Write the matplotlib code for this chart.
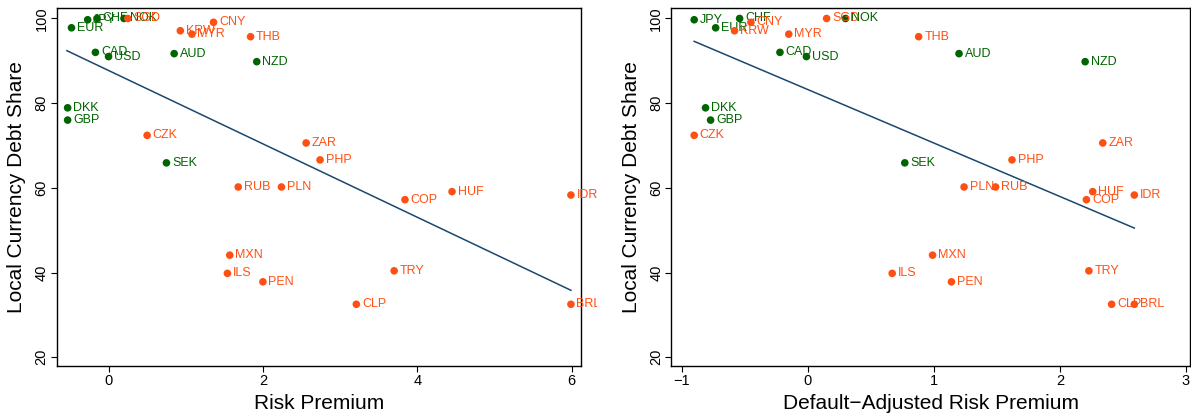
import matplotlib
matplotlib.use("Agg")
from matplotlib import pyplot as plt
from matplotlib.patches import Rectangle

plt.rcParams['font.family'] = ['Liberation Sans', 'DejaVu Sans']

# Currencies (same y in both)
currencies = ['EUR', 'JPY', 'CHF', 'NOK', 'SGD', 'KRW', 'MYR', 'CNY', 'THB',
              'CAD', 'USD', 'AUD', 'NZD', 'DKK', 'GBP', 'CZK', 'SEK', 'ZAR',
              'PHP', 'RUB', 'PLN', 'COP', 'HUF', 'IDR', 'MXN', 'ILS', 'PEN',
              'TRY', 'CLP', 'BRL']
advanced = ['EUR', 'JPY', 'CHF', 'NOK', 'CAD', 'USD', 'AUD', 'NZD', 'DKK',
            'GBP', 'SEK']

debt_share = [97.8, 99.7, 100.0, 100.0, 100.0, 97.1, 96.3, 99.1, 95.7,
              92.0, 91.0, 91.7, 89.8, 78.9, 76.0, 72.4, 65.9, 70.6,
              66.6, 60.2, 60.2, 57.2, 59.1, 58.3, 44.1, 39.8, 37.8,
              40.4, 32.5, 32.5]
risk_premium = [-0.48, -0.27, -0.15, 0.20, 0.25, 0.93, 1.08, 1.36, 1.84,
                -0.17, 0.00, 0.85, 1.92, -0.53, -0.53, 0.50, 0.75, 2.56,
                2.74, 1.68, 2.24, 3.84, 4.45, 5.99, 1.57, 1.54, 2.00,
                3.70, 3.21, 5.99]
adj_risk_premium = [-0.73, -0.90, -0.54, 0.30, 0.15, -0.58, -0.15, -0.45, 0.88,
                    -0.22, -0.01, 1.20, 2.20, -0.81, -0.77, -0.90, 0.77, 2.34,
                    1.62, 1.49, 1.24, 2.21, 2.26, 2.59, 0.99, 0.67, 1.14,
                    2.23, 2.41, 2.59]

# fitted lines (end points)
fit_rp_x = [-0.54, 5.99]
fit_rp_y = [92.4, 35.8]
fit_adj_x = [-0.90, 2.59]
fit_adj_y = [94.6, 50.5]

green = '#006400'
orange = '#ff5014'
navy = '#1a476f'


def draw_panel(fig, ax, xs, fit_x, fit_y, xlabel, xlim, xticks, clip_right):
    # labels may run a little past the frame, like in the original
    clip = Rectangle((0, 0), clip_right, 1, transform=fig.transFigure,
                     fill=False, visible=False)
    fig.add_artist(clip)
    ax.plot(fit_x, fit_y, color=navy, linewidth=1.1, zorder=2)
    for name, x, y in zip(currencies, xs, debt_share):
        color = green if name in advanced else orange
        ax.scatter([x], [y], s=30, color=color, edgecolors='none', zorder=3)
        t = ax.annotate(name, (x, y), xytext=(4, 0), textcoords='offset points',
                        ha='left', va='center', fontsize=9, color=color,
                        annotation_clip=False)
        t.set_clip_path(clip)
    ax.set_xlim(*xlim)
    ax.set_ylim(17.9, 102.5)
    ax.set_xticks(xticks)
    ax.set_yticks([20, 40, 60, 80, 100])
    for lab in ax.get_yticklabels():
        lab.set_rotation(90)
        lab.set_va('center')
    ax.tick_params(direction='out', length=4, width=0.8, labelsize=10.5, pad=2)
    for sp in ax.spines.values():
        sp.set_linewidth(1.0)
    ax.set_xlabel(xlabel, fontsize=15)
    ax.set_ylabel('Local Currency Debt Share', fontsize=15)
    ax.xaxis.set_label_coords(0.5, -0.078)
    ax.yaxis.set_label_coords(-0.059, 0.5)


def main():
    fig = plt.figure(figsize=(11.91, 4.16), dpi=100)
    ax1 = fig.add_axes([0.0479, 0.120, 0.4399, 0.861])
    ax2 = fig.add_axes([0.5638, 0.120, 0.4352, 0.861])
    draw_panel(fig, ax1, risk_premium, fit_rp_x, fit_rp_y, 'Risk Premium',
               (-0.667, 6.12), [0, 2, 4, 6], 597 / 1191)
    draw_panel(fig, ax2, adj_risk_premium, fit_adj_x, fit_adj_y,
               'Default\u2212Adjusted Risk Premium', (-1.08, 3.03),
               [-1, 0, 1, 2, 3], 1.0)
    fig.savefig('out.png', dpi=100)


if __name__ == "__main__":
    main()
